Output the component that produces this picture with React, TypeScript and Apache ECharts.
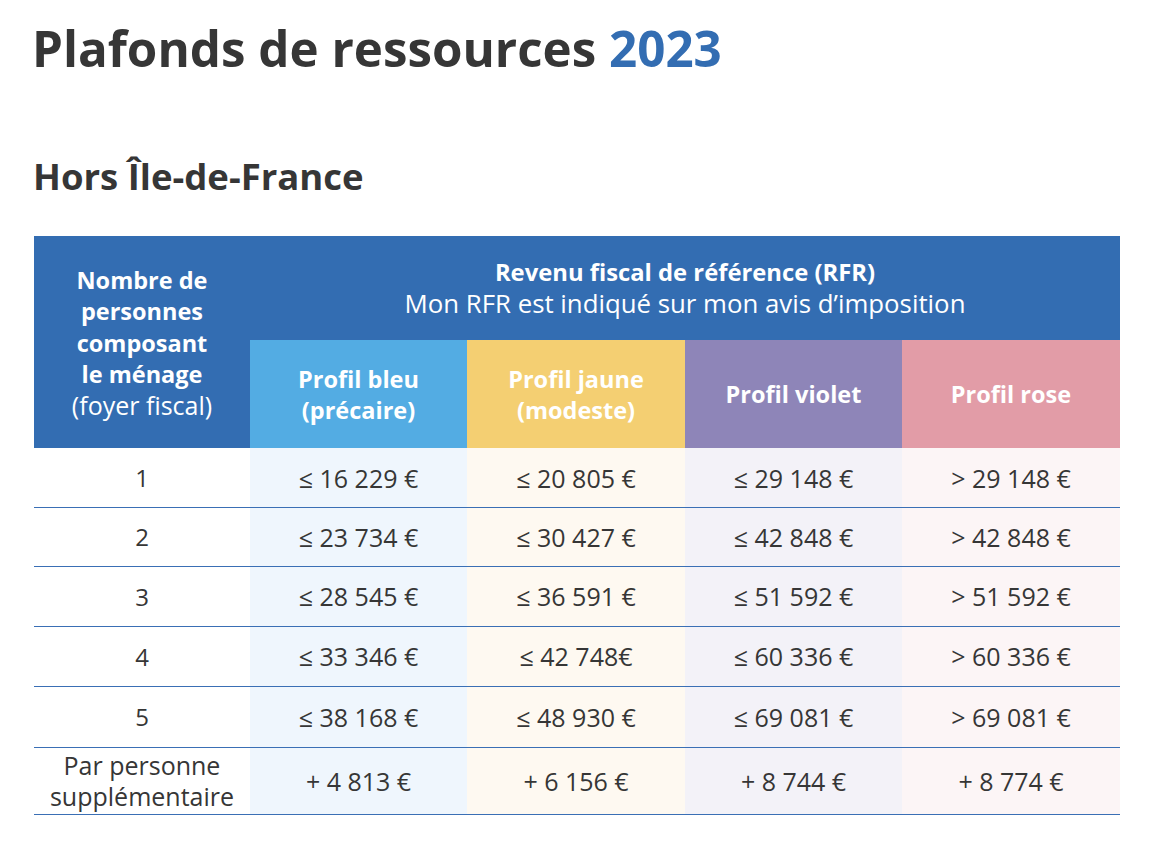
import React, { useEffect, useRef } from "react";
import * as echarts from "echarts";

const TITLE = "Plafonds de ressources";
const YEAR = "2023";
const SUBTITLE = "Hors Île-de-France";
const HEAD_LEFT_BOLD = "Nombre de\npersonnes\ncomposant\nle ménage";
const HEAD_LEFT_REG = "(foyer fiscal)";
const HEAD_RFR = "Revenu fiscal de référence (RFR)";
const HEAD_RFR_SUB = "Mon RFR est indiqué sur mon avis d’imposition";
const HOUSEHOLD = ["1", "2", "3", "4", "5", "Par personne\nsupplémentaire"];
const PROFILES = ["Profil bleu\n(précaire)", "Profil jaune\n(modeste)", "Profil violet", "Profil rose"];
const BLEU = ["≤ 16 229 €", "≤ 23 734 €", "≤ 28 545 €", "≤ 33 346 €", "≤ 38 168 €", "+ 4 813 €"];
const JAUNE = ["≤ 20 805 €", "≤ 30 427 €", "≤ 36 591 €", "≤ 42 748€", "≤ 48 930 €", "+ 6 156 €"];
const VIOLET = ["≤ 29 148 €", "≤ 42 848 €", "≤ 51 592 €", "≤ 60 336 €", "≤ 69 081 €", "+ 8 744 €"];
const ROSE = ["> 29 148 €", "> 42 848 €", "> 51 592 €", "> 60 336 €", "> 69 081 €", "+ 8 774 €"];

const PROFILE_VALUES = [BLEU, JAUNE, VIOLET, ROSE];
const PROFILE_COLORS = ["#53ace3", "#f4cf72", "#8e85b8", "#e29ca7"];
const CELL_COLORS = ["#eff6fd", "#fef9f1", "#f3f2f8", "#fcf5f6"];

const DARK = "#363636";
const BLUE = "#336db2";
const HEAD_FONT = "Open Sans";
const BODY_FONT = "Open Sans";

const COLS = [34, 250, 467, 685, 902, 1120];
const HEAD_TOP = 236;
const SUB_TOP = 340;
const BODY_TOP = 448;
const ROW_BOTTOMS = [507, 566, 626, 686, 747, 814];

export default function App() {
  const ref = useRef<HTMLDivElement>(null);
  useEffect(() => {
    if (!ref.current) return;
    const chart = echarts.init(ref.current, null, { renderer: "svg" });
    const g: any[] = [];
    // title
    g.push({
      type: "text",
      style: {
        x: 32,
        y: 47,
        verticalAlign: "middle",
        text: `{a|${TITLE}\u00a0}{b|${YEAR}}`,
        rich: {
          a: { fill: DARK, fontSize: 49.3, fontWeight: "bold", fontFamily: HEAD_FONT },
          b: { fill: BLUE, fontSize: 49.3, fontWeight: "bold", fontFamily: HEAD_FONT },
        },
      },
    });
    g.push({
      type: "text",
      style: { x: 33, y: 176, verticalAlign: "middle", text: SUBTITLE, fill: DARK, fontSize: 36.5, fontWeight: "bold", fontFamily: HEAD_FONT },
    });
    // header backgrounds
    g.push({ type: "rect", shape: { x: COLS[0], y: HEAD_TOP, width: COLS[5] - COLS[0], height: BODY_TOP - HEAD_TOP }, style: { fill: BLUE } });
    PROFILES.forEach((p, i) => {
      const x0 = COLS[i + 1], x1 = COLS[i + 2];
      g.push({ type: "rect", shape: { x: x0, y: SUB_TOP, width: x1 - x0, height: BODY_TOP - SUB_TOP }, style: { fill: PROFILE_COLORS[i] } });
      g.push({ type: "rect", shape: { x: x0, y: BODY_TOP, width: x1 - x0, height: ROW_BOTTOMS[ROW_BOTTOMS.length - 1] - BODY_TOP }, style: { fill: CELL_COLORS[i] } });
      g.push({
        type: "text",
        style: { x: (x0 + x1) / 2, y: (SUB_TOP + BODY_TOP) / 2, align: "center", verticalAlign: "middle", text: p, lineHeight: 31, fill: "#ffffff", fontSize: 23.5, fontWeight: "bold", fontFamily: HEAD_FONT },
      });
    });
    // left header
    g.push({
      type: "text",
      style: { x: (COLS[0] + COLS[1]) / 2, y: 327, align: "center", verticalAlign: "middle", text: HEAD_LEFT_BOLD, lineHeight: 31.5, fill: "#ffffff", fontSize: 23.5, fontWeight: "bold", fontFamily: HEAD_FONT },
    });
    g.push({
      type: "text",
      style: { x: (COLS[0] + COLS[1]) / 2, y: 405, align: "center", verticalAlign: "middle", text: HEAD_LEFT_REG, fill: "#ffffff", fontSize: 25, fontWeight: 400, fontFamily: BODY_FONT },
    });
    g.push({
      type: "text",
      style: { x: (COLS[1] + COLS[5]) / 2, y: 272, align: "center", verticalAlign: "middle", text: HEAD_RFR, fill: "#ffffff", fontSize: 23.8, fontWeight: "bold", fontFamily: HEAD_FONT },
    });
    g.push({
      type: "text",
      style: { x: (COLS[1] + COLS[5]) / 2, y: 303, align: "center", verticalAlign: "middle", text: HEAD_RFR_SUB, fill: "#ffffff", fontSize: 25.8, fontWeight: 400, fontFamily: BODY_FONT },
    });
    // rows
    HOUSEHOLD.forEach((h, r) => {
      const y0 = r === 0 ? BODY_TOP : ROW_BOTTOMS[r - 1];
      const y1 = ROW_BOTTOMS[r];
      const cy = (y0 + y1) / 2;
      g.push({
        type: "text",
        style: { x: (COLS[0] + COLS[1]) / 2, y: cy, align: "center", verticalAlign: "middle", text: h, lineHeight: 31, fill: DARK, fontSize: r === 5 ? 25 : 24, fontFamily: BODY_FONT },
      });
      PROFILE_VALUES.forEach((vals, c) => {
        g.push({
          type: "text",
          style: { x: (COLS[c + 1] + COLS[c + 2]) / 2, y: cy, align: "center", verticalAlign: "middle", text: vals[r], fill: DARK, fontSize: 25, fontFamily: BODY_FONT },
        });
      });
      g.push({ type: "line", shape: { x1: COLS[0], y1: y1 + 0.5, x2: COLS[5], y2: y1 + 0.5 }, style: { stroke: "#3a6fb5", lineWidth: 1.2 } });
    });
    chart.setOption({ animation: false, graphic: g });
    return () => chart.dispose();
  }, []);
  return <div ref={ref} style={{ position: "absolute", left: 0, top: 0, width: 1156, height: 844, background: "#ffffff" }} />;
}
